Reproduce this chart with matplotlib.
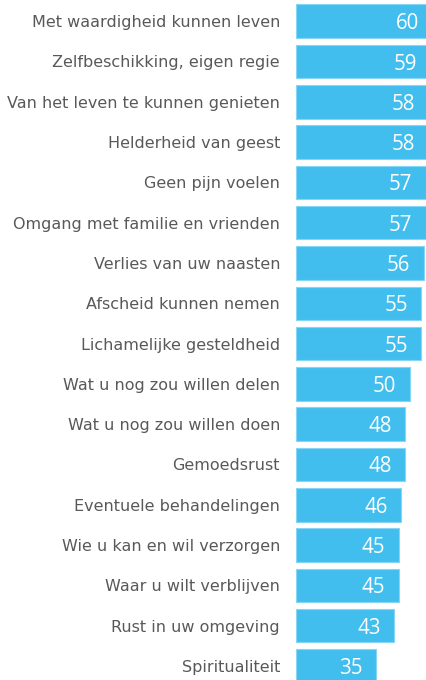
import matplotlib
matplotlib.use("Agg")
import matplotlib.pyplot as plt

categories = [
    "Met waardigheid kunnen leven",
    "Zelfbeschikking, eigen regie",
    "Van het leven te kunnen genieten",
    "Helderheid van geest",
    "Geen pijn voelen",
    "Omgang met familie en vrienden",
    "Verlies van uw naasten",
    "Afscheid kunnen nemen",
    "Lichamelijke gesteldheid",
    "Wat u nog zou willen delen",
    "Wat u nog zou willen doen",
    "Gemoedsrust",
    "Eventuele behandelingen",
    "Wie u kan en wil verzorgen",
    "Waar u wilt verblijven",
    "Rust in uw omgeving",
    "Spiritualiteit",
]
values = [60, 59, 58, 58, 57, 57, 56, 55, 55, 50, 48, 48, 46, 45, 45, 43, 35]

W, H = 426, 680
fig = plt.figure(figsize=(W / 100, H / 100), dpi=100)
ax = fig.add_axes([296 / W, 0, 1 - 296 / W, 1])

pos = list(range(len(categories)))
ax.barh(pos, values, height=0.83, color="#41BEEE", edgecolor="#86D5F4", linewidth=0.8)

pitch = 40.3
ax.set_ylim(16 + (H - 666) / pitch, -21.2 / pitch)
ax.set_xlim(0, (W - 296) / 2.28)

ax.set_yticks(pos)
ax.set_yticklabels(categories, fontsize=11.5, color="#595959", family="DejaVu Sans")
ax.tick_params(axis="y", length=0, pad=11.5)
ax.set_xticks([])
for s in ax.spines.values():
    s.set_visible(False)

for p, v in zip(pos, values):
    ax.annotate(str(v), xy=(v, p), xytext=(-13.5, -2.5), textcoords="offset pixels",
                ha="right", va="center", color="white", fontsize=14.8,
                family="Open Sans", annotation_clip=False)

fig.savefig("out.png", dpi=100)
